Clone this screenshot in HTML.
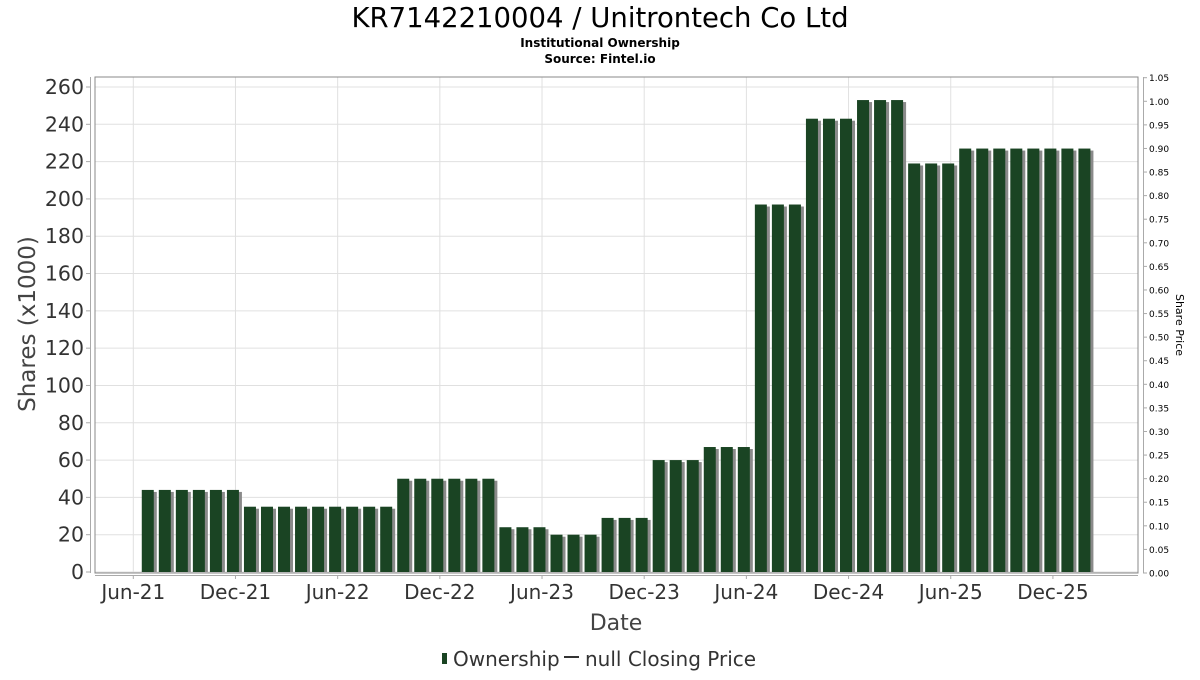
<!DOCTYPE html>
<html><head><meta charset="utf-8"><style>
body{margin:0;background:#fff;}
svg text{font-family:"DejaVu Sans","Liberation Sans",sans-serif;}
</style></head><body>
<svg id="chart" width="1200" height="675" xmlns="http://www.w3.org/2000/svg">
<text x="600" y="27" font-size="27.5" text-anchor="middle" fill="#000">KR7142210004 / Unitrontech Co Ltd</text>
<text x="600" y="47" font-size="12" font-weight="bold" text-anchor="middle" fill="#000">Institutional Ownership</text>
<text x="600" y="63" font-size="12" font-weight="bold" text-anchor="middle" fill="#000">Source: Fintel.io</text>
<g id="grid"></g>
<g id="bars"></g>
<rect x="95" y="77" width="1043" height="496" fill="none" stroke="#888" stroke-width="1"/>
<line x1="90.5" y1="77" x2="90.5" y2="573" stroke="#aaa"/>
<line x1="1143.5" y1="77" x2="1143.5" y2="573" stroke="#aaa"/>
<line x1="95" y1="575.5" x2="1138" y2="575.5" stroke="#aaa"/>
<g id="yticks"></g>
<g id="y2ticks"></g>
<g id="xticks"></g>
<text transform="translate(35,324) rotate(-90)" font-size="23" text-anchor="middle" fill="#444">Shares (x1000)</text>
<text transform="translate(1176,325) rotate(90)" font-size="11" text-anchor="middle" fill="#000">Share Price</text>
<text x="616" y="630" font-size="22" text-anchor="middle" fill="#444">Date</text>
<g>
<rect x="442" y="653" width="5" height="11" fill="#1a4423"/>
<text x="453" y="666" font-size="20" fill="#333">Ownership</text>
<line x1="564" y1="657" x2="579" y2="657" stroke="#333" stroke-width="2"/>
<text x="585" y="666" font-size="20" fill="#333">null Closing Price</text>
</g>
</svg>
<script>
const months = [];
for (let i = 0; i < 56; i++) months.push(i); // month offsets from Jun-21
const ownership = [44,44,44,44,44,44,35,35,35,35,35,35,35,35,35,50,50,50,50,50,50,24,24,24,20,20,20,29,29,29,60,60,60,67,67,67,197,197,197,243,243,243,253,253,253,219,219,219,227,227,227,227,227,227,227,227];
const yTicks = [0,20,40,60,80,100,120,140,160,180,200,220,240,260];
const y2Ticks = [0,0.05,0.1,0.15,0.2,0.25,0.3,0.35,0.4,0.45,0.5,0.55,0.6,0.65,0.7,0.75,0.8,0.85,0.9,0.95,1.0,1.05];
const xTickLabels = ["Jun-21","Dec-21","Jun-22","Dec-22","Jun-23","Dec-23","Jun-24","Dec-24","Jun-25","Dec-25"];
const xTickMonths = [0,6,12,18,24,30,36,42,48,54];
const NS = "http://www.w3.org/2000/svg";
const y = v => 572 - v * (572 - 87) / 260;
const y2 = v => 573 - v * (573 - 77.7) / 1.05;
const x = m => 133.3 + 17.03 * m;
function mk(tag, attrs, parent){const e=document.createElementNS(NS,tag);for(const k in attrs)e.setAttribute(k,attrs[k]);parent.appendChild(e);return e;}
const grid = document.getElementById('grid');
yTicks.forEach(v=>{const l=mk('line',{x1:95,x2:1138,y1:y(v),y2:y(v),stroke:'#e0e0e0'},grid);

});
xTickMonths.forEach(m=>{const l=mk('line',{x1:x(m),x2:x(m),y1:77,y2:573,stroke:'#e0e0e0'},grid);

});
const bars = document.getElementById('bars');
months.forEach((m,i)=>{
  const cx = x(m + 0.85), top = y(ownership[i]);
  const s = mk('rect',{x:cx-6+3,y:top+2,width:12,height:572-top-2,fill:'#8a8a8a'},bars);
  
  
  const b = mk('rect',{x:cx-6,y:top,width:12,height:572-top,fill:'#1a4423'},bars);
  
  
});
const yt = document.getElementById('yticks');
yTicks.forEach(v=>{
  mk('line',{x1:86,x2:90,y1:y(v),y2:y(v),stroke:'#aaa'},yt);
  const t = mk('text',{x:84,y:y(v)+7,'font-size':20.5,'text-anchor':'end',fill:'#333'},yt);
  t.textContent = v;
  
  
});
const y2t = document.getElementById('y2ticks');
y2Ticks.forEach(v=>{
  mk('line',{x1:1143,x2:1147,y1:y2(v),y2:y2(v),stroke:'#aaa'},y2t);
  const t = mk('text',{x:1149,y:y2(v)+3.5,'font-size':9,fill:'#000'},y2t);
  t.textContent = v.toFixed(2);
  
  
});
const xt = document.getElementById('xticks');
xTickMonths.forEach((m,i)=>{
  mk('line',{x1:x(m),x2:x(m),y1:575,y2:579,stroke:'#aaa'},xt);
  const t = mk('text',{x:x(m),y:599,'font-size':20,'text-anchor':'middle',fill:'#333'},xt);
  t.textContent = xTickLabels[i];
  
  
});
</script>
</body></html>
